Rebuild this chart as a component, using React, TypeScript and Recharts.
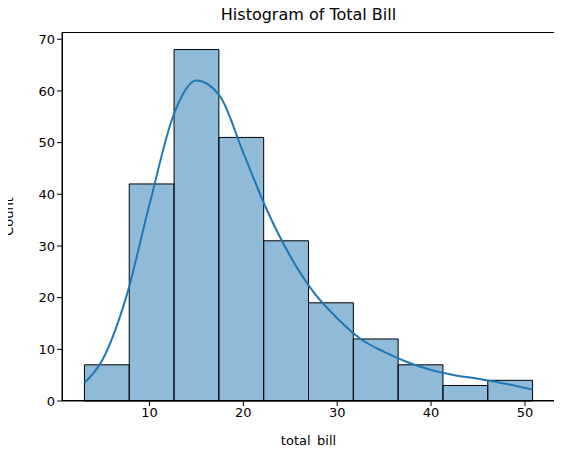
import React from 'react'
import {
  ComposedChart,
  Line,
  XAxis,
  YAxis,
  ReferenceArea,
  Label,
} from 'recharts'

const binEdges = [3.07, 7.844, 12.618, 17.392, 22.166, 26.94, 31.714, 36.488, 41.262, 46.036, 50.81]
const binCounts = [7, 42, 68, 51, 31, 19, 12, 7, 3, 4]
const kdeX = [3.07, 5, 7.5, 10, 12.5, 15, 17.5, 20, 22.5, 25, 27.5, 30, 32.5, 35, 37.5, 40, 42.5, 45, 47.5, 50.81]
const kdeY = [3.5, 8, 20, 38, 55, 62, 59, 48, 37, 28, 21, 16, 12, 9.5, 7.5, 6, 5, 4.3, 3.5, 2.2]
const xTicks = [10, 20, 30, 40, 50]
const yTicks = [0, 10, 20, 30, 40, 50, 60, 70]

const kde = kdeX.map((x, i) => ({ x, y: kdeY[i] }))
const font = 'DejaVu Sans, sans-serif'
const tick = { fontSize: 13, fill: '#000', fontFamily: font }

export default function App() {
  return (
    <div style={{ position: 'relative', width: 562, height: 455, margin: -8, background: '#fff', fontFamily: font }}>
      <div style={{ position: 'absolute', top: 5, left: 62, width: 493, textAlign: 'center', fontSize: 16 }}>
        Histogram of Total Bill
      </div>
      <ComposedChart width={562} height={455} data={kde} margin={{ top: 32, right: 7, bottom: 0, left: 0 }}>
        <XAxis
          dataKey="x"
          type="number"
          domain={[0.68, 53.2]}
          ticks={xTicks}
          tick={tick}
          height={54}
          stroke="#000"
          tickSize={5}
        >
          <Label value="total_bill" position="insideBottom" offset={10} style={{ fontSize: 13, fill: '#000', fontFamily: font }} />
        </XAxis>
        <YAxis
          type="number"
          domain={[0, 71.4]}
          ticks={yTicks}
          tick={tick}
          width={62}
          stroke="#000"
          tickSize={5}
        >
          <Label value="Count" angle={-90} position="insideLeft" offset={8} style={{ fontSize: 13, fill: '#000', fontFamily: font, textAnchor: 'middle' }} />
        </YAxis>
        {binCounts.map((c, i) => (
          <ReferenceArea
            key={i}
            x1={binEdges[i]}
            x2={binEdges[i + 1]}
            y1={0}
            y2={c}
            fill="rgba(31,119,180,0.5)"
            fillOpacity={1}
            stroke="#000"
            strokeWidth={1}
          />
        ))}
        <Line dataKey="y" type="monotone" stroke="#1f77b4" strokeWidth={2} dot={false} isAnimationActive={false} />
      </ComposedChart>
      <div style={{ position: 'absolute', left: 62, top: 32, width: 493, height: 369, border: '1px solid #000', boxSizing: 'border-box', pointerEvents: 'none' }} />
    </div>
  )
}
